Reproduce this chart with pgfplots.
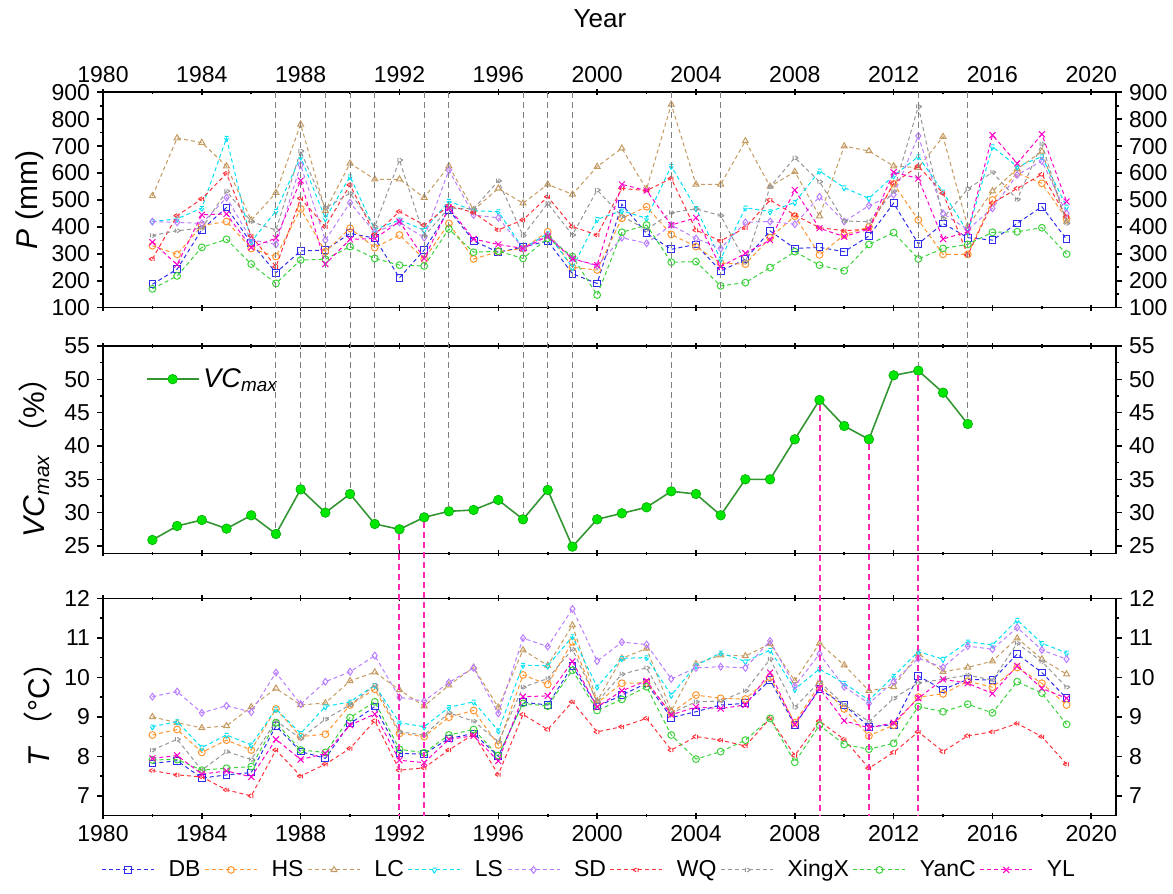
\documentclass[border=0pt]{standalone}
\usepackage{pgfplots}
\pgfplotsset{compat=1.18}
\usepackage{pgfplotstable}
\usepackage{fontspec}
\setmainfont{Liberation Sans}
\newfontfamily\cjk{Noto Sans CJK SC}

\definecolor{cDB}{RGB}{45,45,235}
\definecolor{cHS}{RGB}{255,150,50}
\definecolor{cLC}{RGB}{196,154,96}
\definecolor{cLS}{RGB}{0,225,245}
\definecolor{cSD}{RGB}{185,125,255}
\definecolor{cWQ}{RGB}{255,50,60}
\definecolor{cXX}{RGB}{150,150,150}
\definecolor{cYC}{RGB}{60,210,60}
\definecolor{cYL}{RGB}{255,0,200}
\definecolor{vcline}{RGB}{51,150,51}
\definecolor{vcfill}{RGB}{0,230,0}
\definecolor{pinkline}{RGB}{255,40,180}

% annual precipitation (mm)
\pgfplotstableread{
Year DB HS LC LS SD WQ XingX YanC YL
1982 187 330 515 420 420 281 368 170 343
1983 243 298 730 430 417 442 386 218 260
1984 390 405 713 470 413 504 395 324 445
1985 472 420 626 730 509 599 533 354 448
1986 340 320 425 345 352 367 420 262 324
1987 230 290 527 459 335 252 388 190 358
1988 311 467 781 660 630 506 682 277 572
1989 314 308 460 432 351 401 470 280 262
1990 376 395 636 587 490 556 525 327 354
1991 358 323 577 390 380 372 401 283 357
1992 211 370 577 426 417 457 648 258 420
1993 314 280 509 388 360 407 366 255 283
1994 463 413 626 496 611 479 470 392 471
1995 348 281 463 460 444 453 467 306 355
1996 306 308 543 457 434 389 571 310 335
1997 325 320 488 320 320 426 368 283 320
1998 348 382 558 375 370 512 488 358 365
1999 226 250 521 249 283 401 370 290 281
2000 190 240 624 428 255 370 537 147 258
2001 484 432 692 460 360 543 440 380 558
2002 376 475 540 432 339 535 390 407 535
2003 317 372 855 626 407 580 453 269 407
2004 335 327 558 469 357 388 467 271 434
2005 236 265 558 280 320 348 442 181 252
2006 280 262 719 471 417 397 270 193 302
2007 385 360 550 457 420 500 549 249 351
2008 320 440 605 491 410 444 657 308 537
2009 324 296 440 608 512 397 568 258 395
2010 308 370 700 546 420 386 422 237 364
2011 366 400 682 506 479 392 419 335 392
2012 488 560 626 590 520 562 533 379 603
2013 337 426 620 661 738 626 847 281 580
2014 413 298 735 530 450 525 432 320 355
2015 360 298 401 380 390 296 541 335 382
2016 351 500 533 698 469 488 603 380 741
2017 413 600 615 624 593 543 502 382 636
2018 475 562 680 661 645 595 708 397 744
2019 354 430 420 475 450 438 413 299 494
}\Ptab

% annual mean temperature (degC)
\pgfplotstableread{
Year DB HS LC LS SD WQ XingX YanC YL
1982 7.82 8.54 9.00 8.75 9.51 7.64 8.16 7.91 7.95
1983 7.89 8.68 8.85 8.88 9.64 7.53 8.43 7.92 8.02
1984 7.45 8.10 8.72 8.22 9.10 7.48 7.65 7.65 7.55
1985 7.53 8.41 8.77 8.54 9.28 7.15 8.12 7.70 7.63
1986 7.59 8.16 9.25 8.29 9.12 7.00 7.92 7.74 7.48
1987 8.77 9.20 9.72 9.20 10.12 8.16 8.90 8.85 8.43
1988 8.12 8.50 9.30 8.58 9.32 7.50 8.45 8.16 7.92
1989 7.95 8.56 9.35 9.26 9.89 7.80 8.94 8.10 8.07
1990 8.83 9.30 9.91 9.38 10.14 8.20 9.30 8.98 8.79
1991 9.26 9.70 10.13 9.80 10.55 8.90 9.80 9.38 9.07
1992 8.07 8.58 9.68 8.85 9.49 7.65 8.62 8.18 7.90
1993 8.06 8.50 9.27 8.75 9.40 7.71 8.54 8.09 7.84
1994 8.45 8.99 9.80 9.24 9.87 8.16 9.10 8.54 8.43
1995 8.58 9.16 10.25 9.38 10.24 8.56 8.89 8.68 8.52
1996 8.00 8.29 9.24 8.65 9.09 7.54 8.37 8.02 7.88
1997 9.37 10.06 10.69 10.31 10.99 9.06 9.75 9.34 9.51
1998 9.30 9.82 10.30 10.29 10.78 8.68 9.97 9.27 9.53
1999 10.29 10.90 11.32 11.03 11.73 9.38 10.71 10.18 10.40
2000 9.26 9.35 9.40 9.76 10.41 8.62 9.38 9.16 9.25
2001 9.55 9.85 10.48 10.48 10.89 8.75 10.08 9.44 9.66
2002 9.85 9.86 10.73 10.50 10.83 8.96 10.24 9.76 9.91
2003 8.98 9.10 9.15 9.55 9.96 8.16 9.09 8.54 9.05
2004 9.13 9.55 10.34 10.30 10.24 8.50 9.38 7.93 9.25
2005 9.30 9.47 10.56 10.62 10.27 8.41 9.40 8.12 9.21
2006 9.34 9.45 10.54 10.40 10.24 8.26 9.66 8.41 9.30
2007 9.93 10.00 10.85 10.69 10.92 8.96 10.46 8.96 10.12
2008 8.79 8.85 9.91 9.70 9.78 8.02 9.24 7.85 8.80
2009 9.70 9.82 10.86 10.21 10.59 8.89 9.89 8.79 9.72
2010 9.30 9.20 10.31 9.85 9.76 8.43 9.30 8.30 8.90
2011 8.75 8.52 9.66 9.42 9.34 7.70 8.88 8.18 8.72
2012 8.80 8.79 9.76 10.03 9.89 8.10 9.47 8.33 8.85
2013 10.03 9.50 10.60 10.65 10.48 8.62 9.86 9.26 9.47
2014 9.69 9.58 10.14 10.46 10.25 8.12 9.95 9.13 9.95
2015 9.95 9.90 10.25 10.90 10.79 8.52 10.06 9.32 9.85
2016 9.93 9.75 10.41 10.82 10.71 8.62 9.93 9.10 9.59
2017 10.59 10.25 10.99 11.45 11.26 8.83 10.86 9.89 10.29
2018 10.12 9.85 10.46 10.86 10.69 8.50 10.40 9.60 9.72
2019 9.47 9.30 10.08 10.62 10.46 7.80 9.75 8.81 9.47
}\Ttab

% maximum vegetation coverage (%)
\pgfplotstableread{
Year VC
1982 25.9
1983 28.0
1984 28.9
1985 27.6
1986 29.6
1987 26.8
1988 33.5
1989 30.0
1990 32.8
1991 28.3
1992 27.5
1993 29.3
1994 30.2
1995 30.4
1996 31.9
1997 29.0
1998 33.4
1999 24.9
2000 29.0
2001 29.9
2002 30.8
2003 33.2
2004 32.8
2005 29.6
2006 35.0
2007 35.0
2008 41.0
2009 46.9
2010 43.0
2011 41.0
2012 50.6
2013 51.3
2014 48.0
2015 43.3
}\VCtab

\pgfplotsset{
  panel/.style={
    scale only axis, width=506.5pt,
    xmin=1980, xmax=2021,
    xtick={1980,1984,...,2020},
    minor xtick={1982,1986,...,2018},
    minor y tick num=1,
    tick align=outside,
    xtick align=center,
    major tick length=3pt, minor tick length=1.6pt,
    axis line style={line width=0.8pt},
    every tick/.style={black, line width=0.8pt},
    tick label style={font=\fontsize{11.5}{13}\selectfont},
    /pgf/number format/assume math mode=true,
    /pgf/number format/1000 sep={},
    clip mode=individual,
    label style={font=\fontsize{15}{18}\selectfont},
  },
  twin/.style={panel, axis x line=none, axis y line*=right},
  ser/.style={color=#1, line width=0.5pt, dash pattern=on 2pt off 1.5pt,
    mark size=1.7pt, mark options={solid, line width=0.5pt}},
}

\begin{document}
\begin{tikzpicture}
\path[use as bounding box] (-51.5pt,46.15pt) rectangle (535pt,-400.85pt);

% ---------- precipitation ----------
\begin{axis}[panel, at={(0pt,0pt)}, anchor=north west, height=107.7pt,
  ymin=100, ymax=900, ytick={100,200,...,900},
  xticklabel pos=upper, xtick pos=both, yticklabel pos=left,
  ylabel={\textit{P} (mm)},
  ylabel style={at={(axis description cs:-0.072,0.5)}, anchor=center}]
\addplot[ser=cDB, mark=square] table[x=Year,y=DB]{\Ptab};
\addplot[ser=cHS, mark=o] table[x=Year,y=HS]{\Ptab};
\addplot[ser=cLC, mark=triangle] table[x=Year,y=LC]{\Ptab};
\addplot[ser=cLS, mark=triangle, mark options={rotate=180}] table[x=Year,y=LS]{\Ptab};
\addplot[ser=cSD, mark=diamond] table[x=Year,y=SD]{\Ptab};
\addplot[ser=cWQ, mark=triangle, mark options={rotate=90}] table[x=Year,y=WQ]{\Ptab};
\addplot[ser=cXX, mark=triangle, mark options={rotate=-90}] table[x=Year,y=XingX]{\Ptab};
\addplot[ser=cYC, mark=o] table[x=Year,y=YanC]{\Ptab};
\addplot[ser=cYL, mark=x, mark size=2.1pt] table[x=Year,y=YL]{\Ptab};
\node[font=\fontsize{13}{15}\selectfont, yshift=37pt] at (rel axis cs:0.4906,1) {Year};
\pgfplotsinvokeforeach{1987,1988,1989,1990,1991,1993,1994,1997,1998,1999,2003,2005,2013,2015}{
  \coordinate (g#1) at (axis cs:#1,900);}
\end{axis}
\begin{axis}[twin, at={(0pt,0pt)}, anchor=north west, height=107.7pt,
  ymin=100, ymax=900, ytick={100,200,...,900}]
\addplot[draw=none] coordinates {(1990,500)};
\end{axis}

% ---------- vegetation coverage ----------
\begin{axis}[panel, at={(0pt,-126.85pt)}, anchor=north west, height=103.65pt,
  ymin=23.9, ymax=55, ytick={25,30,...,55},
  xticklabels={}, xtick pos=both, yticklabel pos=left,
  ylabel={\textit{VC}\textsubscript{\textit{max}}\,{\cjk （}\%{\cjk ）}},
  ylabel style={at={(axis description cs:-0.068,0.5)}, anchor=center},
  legend style={draw=none, fill=none, at={(0.036,0.84)}, anchor=west,
    font=\fontsize{13.5}{15}\selectfont},
  legend image code/.code={\draw[mark repeat=2,mark phase=2,#1]
    plot coordinates {(0pt,0pt) (13pt,0pt) (26pt,0pt)};}]
\addplot[color=vcline, line width=0.8pt, mark=*, mark size=2.4pt,
  mark options={fill=vcfill, draw=vcfill!75!black, line width=0.3pt}]
  table[x=Year,y=VC]{\VCtab};
\addlegendentry{\textit{VC}\textsubscript{\textit{max}}}
\pgfplotsinvokeforeach{0,...,33}{%
  \pgfplotstablegetelem{#1}{Year}\of\VCtab
  \edef\yr{\pgfplotsretval}%
  \pgfplotstablegetelem{#1}{VC}\of\VCtab
  \edef\vc{\pgfplotsretval}%
  \edef\doit{\noexpand\coordinate (m\yr) at (axis cs:\yr,\vc);}\doit
}
\end{axis}
\begin{axis}[twin, at={(0pt,-126.85pt)}, anchor=north west, height=103.65pt,
  ymin=23.9, ymax=55, ytick={25,30,...,55}]
\addplot[draw=none] coordinates {(1990,30)};
\end{axis}

% ---------- temperature ----------
\begin{axis}[panel, at={(0pt,-253pt)}, anchor=north west, height=108.65pt,
  ymin=6.5, ymax=12, ytick={7,...,12},
  xticklabel pos=lower, xtick pos=both, yticklabel pos=left,
  ylabel={\textit{T}\,{\cjk （}°C{\cjk ）}},
  ylabel style={at={(axis description cs:-0.064,0.5)}, anchor=center},
  legend columns=9,
  legend style={draw=none, fill=none, at={(0.481,-0.25)}, anchor=center,
    font=\fontsize{11.5}{13}\selectfont,
    /tikz/every odd column/.append style={column sep=5pt}},
  legend image code/.code={\draw[mark repeat=2,mark phase=2,#1]
    plot coordinates {(0pt,0pt) (13pt,0pt) (26pt,0pt)};}]
\addplot[ser=cDB, mark=square] table[x=Year,y=DB]{\Ttab};
\addlegendentry{DB}
\addplot[ser=cHS, mark=o] table[x=Year,y=HS]{\Ttab};
\addlegendentry{HS}
\addplot[ser=cLC, mark=triangle] table[x=Year,y=LC]{\Ttab};
\addlegendentry{LC}
\addplot[ser=cLS, mark=triangle, mark options={rotate=180}] table[x=Year,y=LS]{\Ttab};
\addlegendentry{LS}
\addplot[ser=cSD, mark=diamond] table[x=Year,y=SD]{\Ttab};
\addlegendentry{SD}
\addplot[ser=cWQ, mark=triangle, mark options={rotate=90}] table[x=Year,y=WQ]{\Ttab};
\addlegendentry{WQ}
\addplot[ser=cXX, mark=triangle, mark options={rotate=-90}] table[x=Year,y=XingX]{\Ttab};
\addlegendentry{XingX}
\addplot[ser=cYC, mark=o] table[x=Year,y=YanC]{\Ttab};
\addlegendentry{YanC}
\addplot[ser=cYL, mark=x, mark size=2.1pt] table[x=Year,y=YL]{\Ttab};
\addlegendentry{YL}
\pgfplotsinvokeforeach{1992,1993,2009,2011,2013}{
  \coordinate (b#1) at (axis cs:#1,6.5);}
\end{axis}
\begin{axis}[twin, at={(0pt,-253pt)}, anchor=north west, height=108.65pt,
  ymin=6.5, ymax=12, ytick={7,...,12}]
\addplot[draw=none] coordinates {(1990,9)};
\end{axis}

% guide lines linking the panels
\foreach \y in {1987,1988,1989,1990,1991,1993,1994,1997,1998,1999,2003,2005,2013,2015}
  \draw[gray, line width=0.5pt, dash pattern=on 3pt off 2pt, shorten >=2.4pt] (g\y) -- (m\y);
\foreach \y in {1992,1993,2009,2011,2013}
  \draw[pinkline, line width=1pt, dash pattern=on 3pt off 2pt, shorten <=2.4pt] (m\y) -- (b\y);
\end{tikzpicture}
\end{document}
